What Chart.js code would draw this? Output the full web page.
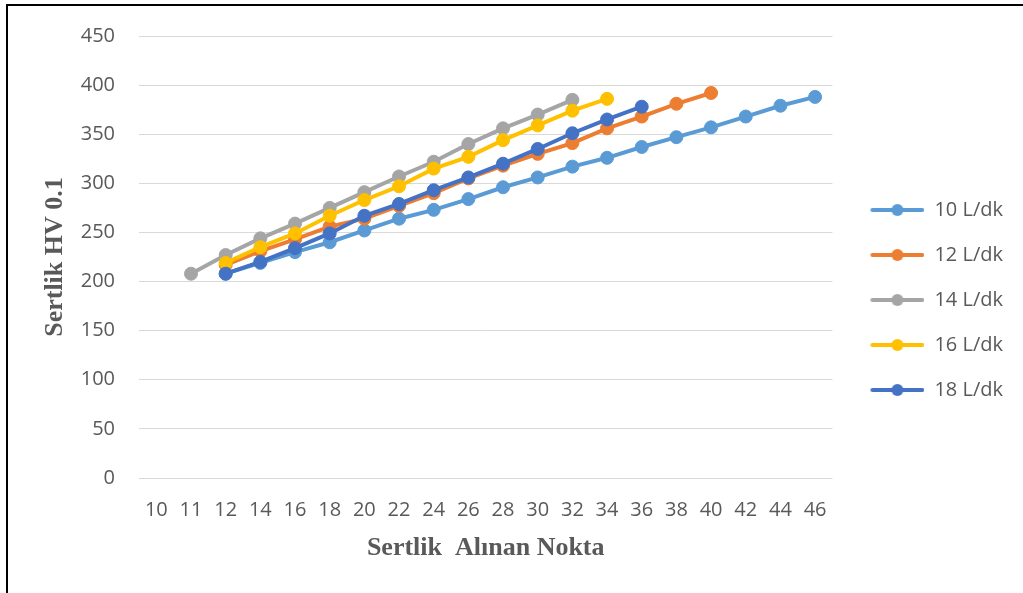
<!DOCTYPE html>
<html>
<head>
<meta charset="utf-8">
<script src="https://cdn.jsdelivr.net/npm/chart.js@4/dist/chart.umd.min.js"></script>
<style>
  html, body { margin: 0; padding: 0; background: #fff; overflow: hidden; }
  #wrap { position: relative; width: 1023px; height: 593px; }
  #frame {
    position: absolute; left: 6px; top: 4px; width: 2000px; height: 2000px;
    border-left: 2px solid #000; border-top: 2px solid #000; pointer-events: none;
  }
</style>
</head>
<body>
<div id="wrap">
  <canvas id="myChart" width="1023" height="593"></canvas>
  <div id="frame"></div>
</div>
<script>
const labels = ["10", "11", "12", "14", "16", "18", "20", "22", "24", "26",
  "28", "30", "32", "34", "36", "38", "40", "42", "44", "46"];

const seriesNames = ["10 L/dk", "12 L/dk", "14 L/dk", "16 L/dk", "18 L/dk"];

const flow10 = [null, null, 208, 219, 230, 240, 252, 264, 273, 284, 296, 306, 317, 326, 337, 347, 357, 368, 379, 388];
const flow12 = [null, null, 217, 231, 243, 256, 264, 277, 290, 305, 318, 330, 341, 356, 368, 381, 392, null, null, null];
const flow14 = [null, 208, 227, 244, 259, 275, 291, 307, 322, 340, 356, 370, 385, null, null, null, null, null, null, null];
const flow16 = [null, null, 219, 235, 249, 267, 283, 297, 315, 327, 344, 359, 374, 386, null, null, null, null, null, null];
const flow18 = [null, null, 208, 220, 234, 249, 267, 279, 293, 306, 320, 335, 351, 365, 378, null, null, null, null, null];

const yTicks = [0, 50, 100, 150, 200, 250, 300, 350, 400, 450];

const colors = ["#5B9BD5", "#ED7D31", "#A5A5A5", "#FFC000", "#4472C4"];
const allData = [flow10, flow12, flow14, flow16, flow18];

const textColor = "#595959";
const tickFont = { family: "'Open Sans', 'Liberation Sans', sans-serif", size: 20 };

// legend marker: line with a dot, drawn once per colour
function legendMarker(color) {
  const c = document.createElement("canvas");
  c.width = 67;
  c.height = 14;
  const g = c.getContext("2d");
  g.strokeStyle = color;
  g.lineWidth = 4;
  g.lineCap = "round";
  g.beginPath();
  g.moveTo(15, 7);
  g.lineTo(65, 7);
  g.stroke();
  g.fillStyle = color;
  g.beginPath();
  g.arc(40, 7, 6, 0, Math.PI * 2);
  g.fill();
  return c;
}
const markers = colors.map(legendMarker);

const ctx = document.getElementById("myChart");

new Chart(ctx, {
  type: "line",
  data: {
    labels: labels,
    datasets: seriesNames.map((name, i) => ({
      label: name,
      data: allData[i],
      borderColor: colors[i],
      backgroundColor: colors[i],
      pointBackgroundColor: colors[i],
      pointBorderColor: colors[i],
      pointBorderWidth: 1,
      pointRadius: 6.5,
      borderWidth: 4,
      tension: 0,
      order: 5 - i,
    })),
  },
  options: {
    responsive: false,
    animation: false,
    layout: { padding: { left: 40, top: 33, right: 10, bottom: 26 } },
    plugins: {
      tooltip: { enabled: false },
      legend: {
        position: "right",
        labels: {
          usePointStyle: true,
          pointStyleWidth: 67,
          padding: 25,
          color: textColor,
          font: tickFont,
          generateLabels: (chart) =>
            chart.data.datasets.map((ds, i) => ({
              text: ds.label,
              fillStyle: colors[i],
              strokeStyle: colors[i],
              lineWidth: 0,
              pointStyle: markers[i],
              fontColor: textColor,
              hidden: false,
              datasetIndex: i,
            })),
        },
      },
    },
    scales: {
      x: {
        type: "category",
        offset: true,
        grid: { display: false, drawTicks: false },
        border: { display: false },
        ticks: { color: textColor, font: tickFont, padding: 20, maxRotation: 0, autoSkip: false },
        title: {
          display: true,
          text: "Sertlik  Alınan Nokta",
          color: textColor,
          font: { family: "'Liberation Serif', 'Times New Roman', serif", size: 26, weight: "bold", lineHeight: 1.2 },
          padding: { top: 0, bottom: 3 },
        },
        afterFit: (scale) => { scale.height = 89; },
      },
      y: {
        min: 0,
        max: 450,
        grid: { color: "#D9D9D9", lineWidth: 1, drawTicks: false },
        border: { display: false },
        afterBuildTicks: (scale) => { scale.ticks = yTicks.map((v) => ({ value: v })); },
        ticks: { color: textColor, font: tickFont, padding: 24 },
        title: {
          display: true,
          text: "Sertlik HV 0.1",
          color: textColor,
          font: { family: "'Liberation Serif', 'Times New Roman', serif", size: 26, weight: "bold", lineHeight: 1.2 },
          padding: { top: 0, bottom: 0 },
        },
        afterFit: (scale) => { scale.width = 99; },
      },
    },
  },
});
</script>
</body>
</html>
